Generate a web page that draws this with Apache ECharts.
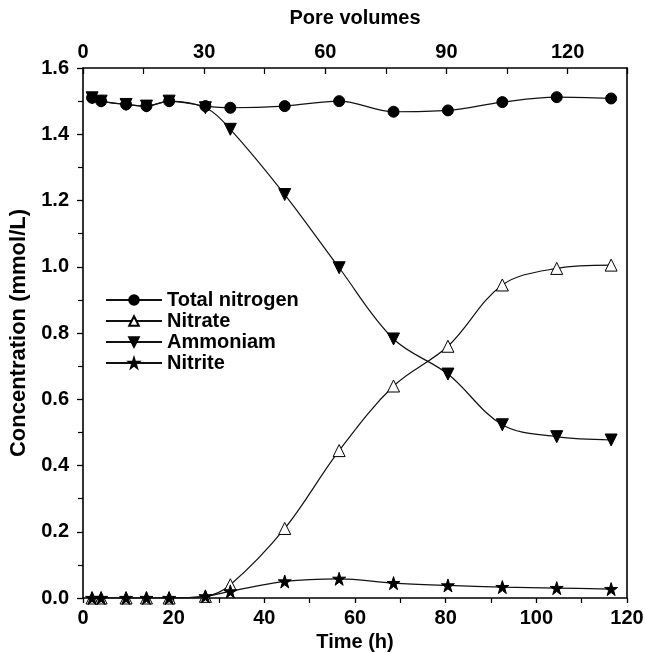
<!DOCTYPE html>
<html>
<head>
<meta charset="utf-8">
<script src="https://cdn.jsdelivr.net/npm/echarts@6/dist/echarts.min.js"></script>
<style>
  html, body { margin: 0; padding: 0; background: #fff; }
  #main { width: 646px; height: 652px; }
</style>
</head>
<body>
<div id="main"></div>
<script>
// sampling times (h)
var timeH = [2, 4, 9.5, 14, 19, 27, 32.5, 44.5, 56.5, 68.5, 80.5, 92.5, 104.5, 116.5];

var totalN   = [1.51, 1.50, 1.49, 1.485, 1.50, 1.485, 1.48, 1.485, 1.50, 1.468, 1.472, 1.497, 1.512, 1.508];
var nitrate  = [0, 0, 0, 0, 0, 0.005, 0.04, 0.21, 0.445, 0.64, 0.76, 0.945, 0.995, 1.005];
var ammoniam = [1.51, 1.50, 1.49, 1.485, 1.50, 1.48, 1.415, 1.218, 0.997, 0.782, 0.676, 0.523, 0.487, 0.477];
var nitrite  = [0, 0, 0, 0, 0, 0.005, 0.02, 0.05, 0.058, 0.045, 0.038, 0.033, 0.03, 0.027];

var topTicks = [0, 30, 60, 90, 120];

var starPath = 'path://M12,0 L14.8,8.6 L24,8.6 L16.6,14 L19.4,22.8 L12,17.4 L4.6,22.8 L7.4,14 L0,8.6 L9.2,8.6 Z';

function pairs(ys) {
    var out = [];
    for (var i = 0; i < timeH.length; i++) out.push([timeH[i], ys[i]]);
    return out;
}

var font = 'Liberation Sans';

function mkSeries(name, ys, symbol, size, fill, rotate) {
    return {
        name: name,
        type: 'line',
        data: pairs(ys),
        smooth: 0.35,
        symbol: symbol,
        symbolSize: size,
        symbolRotate: rotate || 0,
        showAllSymbol: true,
        lineStyle: { color: '#111', width: 1.2 },
        itemStyle: { color: fill, borderColor: '#000', borderWidth: 1 },
        emphasis: { disabled: true }
    };
}

var myChart = echarts.init(document.getElementById('main'));
var option = {
    backgroundColor: '#fff',
    animation: false,
    textStyle: { fontFamily: font },
    grid: { left: 83, right: 19, top: 68, bottom: 54, outerBoundsMode: 'none', containLabel: false },
    legend: {
        orient: 'vertical',
        left: 105,
        top: 290,
        padding: 0,
        itemWidth: 56,
        itemHeight: 12,
        itemGap: 1,
        textStyle: { fontFamily: font, fontWeight: 'bold', fontSize: 20, lineHeight: 20, color: '#000' },
        data: ['Total nitrogen', 'Nitrate', 'Ammoniam', 'Nitrite']
    },
    xAxis: [{
        type: 'value',
        position: 'bottom',
        min: 0, max: 120, interval: 20,
        name: 'Time (h)',
        nameLocation: 'middle',
        nameGap: 32,
        nameTextStyle: { fontFamily: font, fontWeight: 'bold', fontSize: 20, color: '#000' },
        axisLine: { onZero: false, lineStyle: { color: '#000', width: 1.6 } },
        axisTick: { inside: false, length: 5, lineStyle: { color: '#000', width: 1.3 } },
        minorTick: { show: true, splitNumber: 2, length: 5, lineStyle: { color: '#000', width: 1.2 } },
        splitLine: { show: false },
        axisLabel: { fontFamily: font, fontWeight: 'bold', fontSize: 20, color: '#000', margin: 10 }
    }, {
        type: 'value',
        position: 'top',
        min: 0, max: 134.7, interval: 30,
        name: 'Pore volumes',
        nameLocation: 'middle',
        nameGap: 40,
        nameTextStyle: { fontFamily: font, fontWeight: 'bold', fontSize: 20, color: '#000' },
        axisLine: { onZero: false, lineStyle: { color: '#000', width: 1.6 } },
        axisTick: { inside: true, length: 6, lineStyle: { color: '#000', width: 1.3 } },
        minorTick: { show: true, splitNumber: 2, length: 6, lineStyle: { color: '#000', width: 1.2 } },
        splitLine: { show: false },
        axisLabel: {
            fontFamily: font, fontWeight: 'bold', fontSize: 20, color: '#000', margin: 6,
            showMaxLabel: false,
            formatter: function (v) { return topTicks.indexOf(v) >= 0 ? String(v) : ''; }
        }
    }],
    yAxis: [{
        type: 'value',
        min: 0, max: 1.6, interval: 0.2,
        name: 'Concentration (mmol/L)',
        nameLocation: 'middle',
        nameGap: 47,
        nameTextStyle: { fontFamily: font, fontWeight: 'bold', fontSize: 22, color: '#000' },
        axisLine: { show: true, onZero: false, lineStyle: { color: '#000', width: 1.6 } },
        axisTick: { show: true, inside: false, length: 6, lineStyle: { color: '#000', width: 1.3 } },
        minorTick: { show: true, splitNumber: 2, length: 5, lineStyle: { color: '#000', width: 1.2 } },
        splitLine: { show: false },
        axisLabel: {
            fontFamily: font, fontWeight: 'bold', fontSize: 20, color: '#000', margin: 14,
            formatter: function (v) { return v.toFixed(1); }
        }
    }, {
        type: 'value',
        position: 'right',
        min: 0, max: 1.6,
        axisLine: { show: true, onZero: false, lineStyle: { color: '#000', width: 1.6 } },
        axisTick: { show: false },
        axisLabel: { show: false },
        splitLine: { show: false }
    }],
    series: [
        mkSeries('Total nitrogen', totalN, 'circle', 11, '#000'),
        mkSeries('Nitrate', nitrate, 'triangle', 12, '#fff'),
        mkSeries('Ammoniam', ammoniam, 'triangle', 12, '#000', 180),
        mkSeries('Nitrite', nitrite, starPath, 13, '#000')
    ]
};

if (option && typeof option === "object") {
    myChart.setOption(option, true);
}
</script>
</body>
</html>
